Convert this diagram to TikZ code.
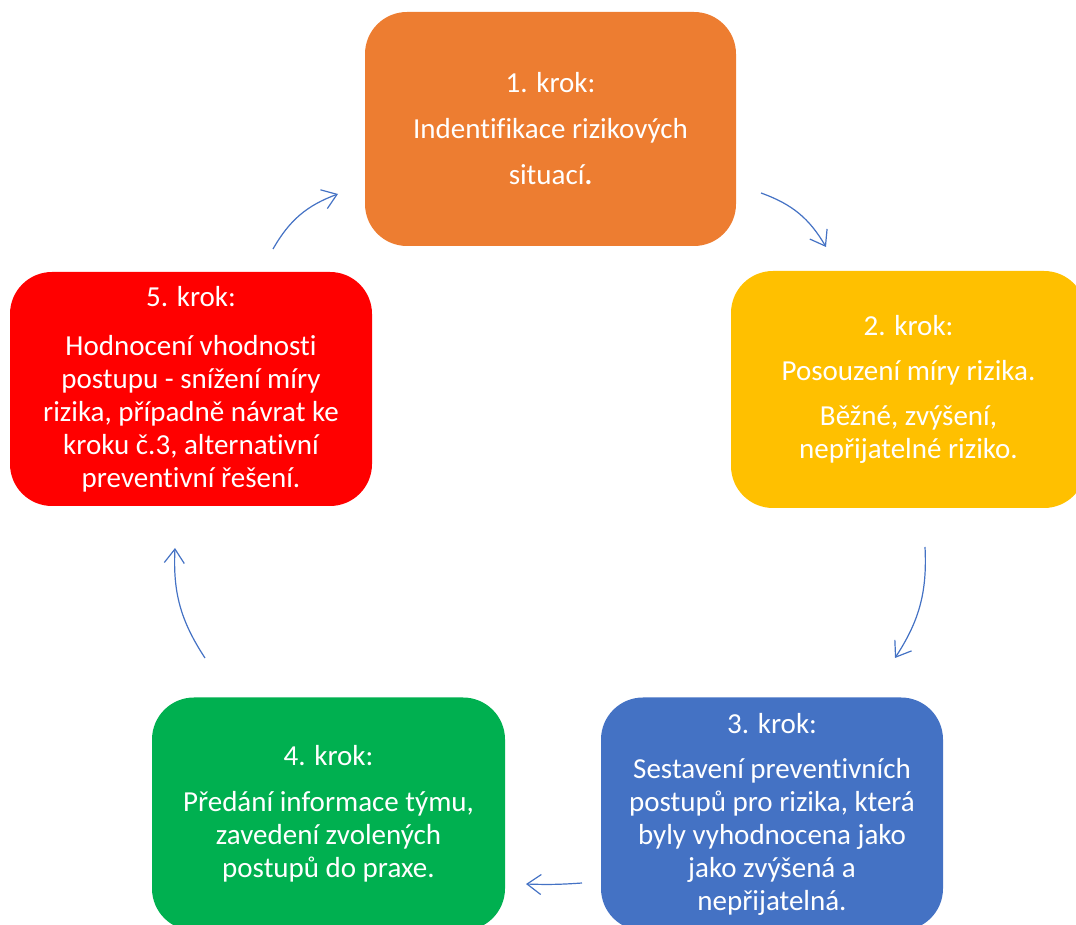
\documentclass[tikz,border=0pt]{standalone}
\usepackage{fontspec}
\setmainfont{Carlito}[Ligatures={NoCommon}]
\usepackage{tikz}
\usetikzlibrary{arrows.meta}
\definecolor{krokorange}{HTML}{ED7D31}
\definecolor{krokyellow}{HTML}{FFC000}
\definecolor{krokblue}{HTML}{4472C4}
\definecolor{krokgreen}{HTML}{00B050}
\definecolor{krokred}{HTML}{FF0000}

\begin{document}
\begin{tikzpicture}[x=1pt,y=1pt]
	\useasboundingbox (0,0) rectangle (1076,924);
	\begin{scope}[every node/.style={rounded corners=42pt,text=white,align=center,
	              font=\fontsize{29}{33}\selectfont}]
		\node[fill=krokorange,minimum width=371pt,minimum height=234pt] (k1) at (550.5,795)
			{1. krok:\\[13pt] Indentifikace rizikových\\[13pt] situací{\bfseries .}};
		\node[fill=krokyellow,minimum width=355pt,minimum height=237pt] (k2) at (908.5,534.5)
			{2. krok:\\[12pt] Posouzení míry rizika.\\[12pt] Běžné, zvýšení,\\ nepřijatelné riziko.};
		\node[fill=krokblue,minimum width=342pt,minimum height=233pt] (k3) at (772,110)
			{3. krok:\\[12pt] Sestavení preventivních\\ postupů pro rizika, která\\ byly vyhodnocena jako\\ jako zvýšená a\\ nepřijatelná.};
		\node[fill=krokgreen,minimum width=353pt,minimum height=233pt] (k4) at (328.5,110)
			{4. krok:\\[13pt] Předání informace týmu,\\ zavedení zvolených\\ postupů do praxe.};
		\node[fill=krokred,minimum width=362pt,minimum height=234pt] (k5) at (191,535)
			{5. krok:\\[16pt] Hodnocení vhodnosti\\ postupu - snížení míry\\ rizika, případně návrat ke\\ kroku č.3, alternativní\\ preventivní řešení.};
	\end{scope}

	\coordinate (a1) at (761,731);
	\coordinate (b1) at (826,677);
	\coordinate (a2) at (925,377);
	\coordinate (b2) at (895,266);
	\coordinate (a3) at (582,41);
	\coordinate (b3) at (526,40);
	\coordinate (a4) at (205,266);
	\coordinate (b4) at (175,376);
	\coordinate (a5) at (273,675);
	\coordinate (b5) at (338,730);

	\begin{scope}[>={Straight Barb[length=14pt,width=20pt]},
	              every edge/.style={draw=krokblue,line width=1.2pt,->}]
		\path (a1) edge[bend left=20] (b1);
		\path (a2) edge[bend left=18] (b2);
		\path (a3) edge[bend left=3] (b3);
		\path (a4) edge[bend left=18] (b4);
		\path (a5) edge[bend left=20] (b5);
	\end{scope}
\end{tikzpicture}
\end{document}
